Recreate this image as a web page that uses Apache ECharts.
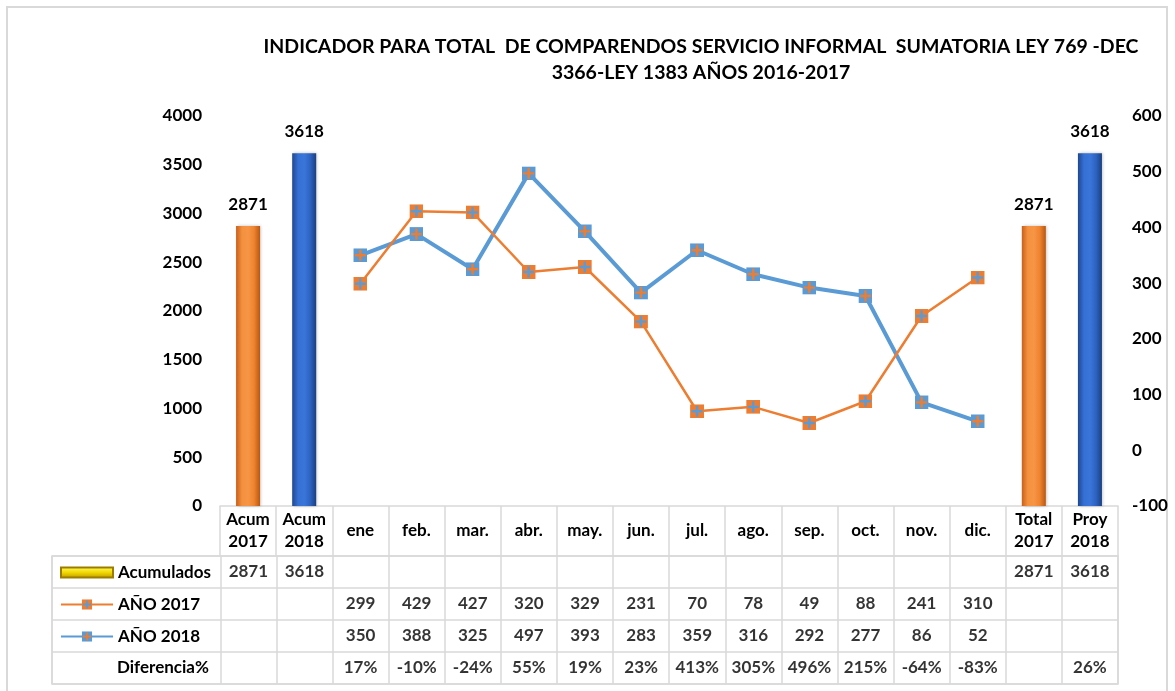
<!DOCTYPE html>
<html>
<head>
<meta charset="utf-8">
<script src="https://cdn.jsdelivr.net/npm/echarts@6/dist/echarts.min.js"></script>
<style>
html, body { margin: 0; padding: 0; background: #fff; }
#chart { width: 1175px; height: 691px; }
</style>
</head>
<body>
<div id="chart"></div>
<script>
// categorias del eje x (fila de encabezado de la tabla)
const categorias = ['Acum\n2017', 'Acum\n2018', 'ene', 'feb.', 'mar.', 'abr.', 'may.', 'jun.', 'jul.', 'ago.', 'sep.', 'oct.', 'nov.', 'dic.', 'Total\n2017', 'Proy\n2018']
// barras acumuladas
const acumulados = [2871, 3618, null, null, null, null, null, null, null, null, null, null, null, null, 2871, 3618]
// lineas mensuales
const anio2017 = [null, null, 299, 429, 427, 320, 329, 231, 70, 78, 49, 88, 241, 310, null, null]
const anio2018 = [null, null, 350, 388, 325, 497, 393, 283, 359, 316, 292, 277, 86, 52, null, null]
const diferencia = ['', '', '17%', '-10%', '-24%', '55%', '19%', '23%', '413%', '305%', '496%', '215%', '-64%', '-83%', '', '26%']
const filas = ['Acumulados', 'AÑO 2017', 'AÑO 2018', 'Diferencia%']
const ticksIzq = [0, 4000, 500]
const ticksDer = [-100, 600, 100]

const naranja = '#ED7D31'
const azul = '#5B9BD5'
const fuente = 'Lato'
const gris = '#d9d9d9'
const tam = 17

// marcador cuadrado con cruz
function marcador(fondo, cruz) {
  const svg = '<svg xmlns="http://www.w3.org/2000/svg" width="14" height="14"><rect width="14" height="14" fill="' + fondo + '"/><path d="M7 1.5V12.5M1.5 7H12.5" stroke="' + cruz + '" stroke-width="2.4"/></svg>'
  return 'image://data:image/svg+xml;charset=utf-8,' + encodeURIComponent(svg)
}

function degradado(stops) {
  return new echarts.graphic.LinearGradient(0, 0, 1, 0, stops.map((c, i) => ({ offset: i / (stops.length - 1), color: c })))
}
const barNaranja = degradado(['#c9601a', '#f4913f', '#f79546', '#ee8430', '#b9560f'])
const barAzul = degradado(['#1f478f', '#3570d4', '#3a76da', '#2d63c2', '#1b3f80'])
const amarillo = new echarts.graphic.LinearGradient(0, 0, 0, 1, [
  { offset: 0, color: '#ffff66' }, { offset: 0.5, color: '#f2d800' }, { offset: 1, color: '#b89400' }
])

// celdas de la tabla: [columna, fila, texto]
const celdas = []
categorias.forEach((c, i) => {
  if (acumulados[i] != null) celdas.push([i + 3, 0, String(acumulados[i])])
  if (anio2017[i] != null) celdas.push([i + 3, 1, String(anio2017[i])])
  if (anio2018[i] != null) celdas.push([i + 3, 2, String(anio2018[i])])
  if (diferencia[i]) celdas.push([i + 3, 3, diferencia[i]])
})

const filaTop = 556, filaAlto = 32
const leyendas = filas.slice(0, 3).map((n, i) => ({
  data: [{ name: n, icon: i === 0 ? 'rect' : undefined }],
  left: 60,
  top: filaTop + filaAlto * i + filaAlto / 2 - 8,
  padding: 0,
  itemWidth: 52,
  itemHeight: i === 0 ? 10 : 13,
  itemGap: 5,
  textStyle: { fontFamily: fuente, fontWeight: 'bold', fontSize: tam, lineHeight: 16, color: '#000' },
  selectedMode: false
}))

const chart = echarts.init(document.getElementById('chart'))
chart.setOption({
  animation: false,
  textStyle: { fontFamily: fuente, fontWeight: 'bold' },
  title: {
    text: 'INDICADOR PARA TOTAL  DE COMPARENDOS SERVICIO INFORMAL  SUMATORIA LEY 769 -DEC\n3366-LEY 1383 AÑOS 2016-2017',
    left: 701,
    top: 34,
    padding: 0,
    textAlign: 'center',
    textStyle: { fontFamily: fuente, fontWeight: 'bold', fontSize: 19.5, lineHeight: 26, color: '#000' }
  },
  graphic: [{
    type: 'rect',
    shape: { x: 7, y: 7, width: 1160, height: 695 },
    style: { fill: 'none', stroke: gris, lineWidth: 2 },
    silent: true
  }],
  legend: leyendas,
  grid: [
    { left: 220, right: 57, top: 116, height: 390 },
    { left: 52, right: 57, top: filaTop, height: filaAlto * 4, show: true, borderColor: gris, borderWidth: 1.5 }
  ],
  xAxis: [
    {
      type: 'category',
      gridIndex: 0,
      data: categorias,
      axisLine: { show: true, lineStyle: { color: gris, width: 1.5 } },
      axisTick: { show: true, interval: 0, length: 50, lineStyle: { color: gris, width: 1.5 } },
      axisLabel: {
        interval: 0, margin: 25, verticalAlign: 'middle',
        fontFamily: fuente, fontWeight: 'bold', fontSize: tam, lineHeight: 22, color: '#000'
      }
    },
    {
      type: 'category',
      gridIndex: 1,
      data: ['', '', ''].concat(categorias),
      axisLine: { show: false },
      axisTick: { show: false },
      axisLabel: { show: false },
      splitLine: {
        show: true,
        interval: (idx) => idx === 0 || idx >= 3,
        lineStyle: { color: gris, width: 1.5 }
      }
    }
  ],
  yAxis: [
    {
      type: 'value', gridIndex: 0,
      min: ticksIzq[0], max: ticksIzq[1], interval: ticksIzq[2],
      splitLine: { show: false },
      axisLine: { show: false },
      axisLabel: { margin: 18, formatter: (v) => String(v), fontFamily: fuente, fontWeight: 'bold', fontSize: tam, color: '#000' }
    },
    {
      type: 'value', gridIndex: 0, position: 'right',
      min: ticksDer[0], max: ticksDer[1], interval: ticksDer[2],
      splitLine: { show: false },
      axisLine: { show: false },
      axisLabel: { margin: 14, formatter: (v) => String(v), fontFamily: fuente, fontWeight: 'bold', fontSize: tam, color: '#000' }
    },
    {
      type: 'category', gridIndex: 1, inverse: true,
      data: filas,
      axisLine: { show: false },
      axisTick: { show: false },
      axisLabel: {
        inside: true, margin: 65,
        formatter: (v) => (v === 'Diferencia%' ? v : ''),
        fontFamily: fuente, fontWeight: 'bold', fontSize: tam, color: '#000'
      },
      splitLine: { show: true, lineStyle: { color: gris, width: 1.5 } }
    }
  ],
  series: [
    {
      name: 'Acumulados',
      type: 'bar',
      xAxisIndex: 0, yAxisIndex: 0,
      barWidth: 24,
      itemStyle: { color: amarillo, borderColor: '#9c7c00', borderWidth: 0.5 },
      data: acumulados.map((v, i) => v == null ? '-' : {
        value: v,
        itemStyle: { color: i % 2 === 0 ? barNaranja : barAzul, borderWidth: 0, shadowColor: 'rgba(0,0,0,0.25)', shadowBlur: 3, shadowOffsetX: 1 }
      }),
      label: { show: true, position: 'top', distance: 13, fontFamily: fuente, fontWeight: 'bold', fontSize: tam, color: '#000' }
    },
    {
      name: 'AÑO 2018',
      type: 'line',
      xAxisIndex: 0, yAxisIndex: 1,
      data: anio2018.map(v => v == null ? '-' : v),
      symbol: marcador(azul, naranja),
      symbolSize: 14,
      lineStyle: { color: azul, width: 4 },
      itemStyle: { color: azul },
      z: 3
    },
    {
      name: 'AÑO 2017',
      type: 'line',
      xAxisIndex: 0, yAxisIndex: 1,
      data: anio2017.map(v => v == null ? '-' : v),
      symbol: marcador(naranja, azul),
      symbolSize: 14,
      lineStyle: { color: naranja, width: 2.5 },
      itemStyle: { color: naranja },
      z: 4
    },
    {
      type: 'scatter',
      xAxisIndex: 1, yAxisIndex: 2,
      data: celdas,
      symbolSize: 0.1,
      itemStyle: { color: 'transparent' },
      silent: true,
      label: {
        show: true, position: 'inside',
        formatter: (p) => p.data[2],
        fontFamily: fuente, fontWeight: 'bold', fontSize: tam, color: '#000'
      }
    }
  ]
})
</script>
</body>
</html>
